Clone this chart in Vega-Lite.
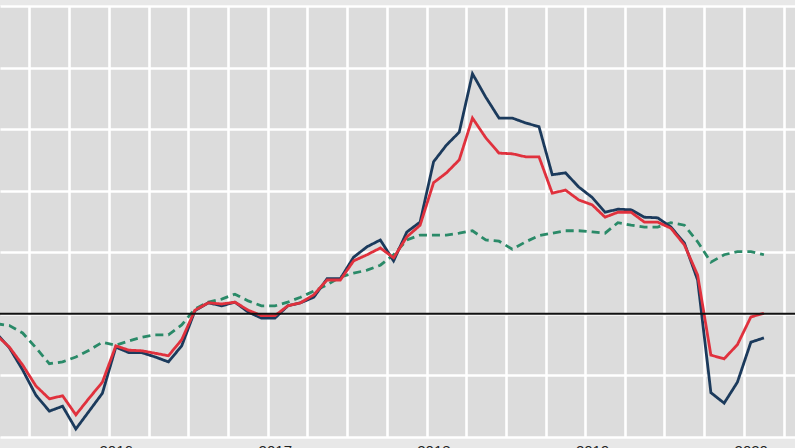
{
  "$schema": "https://vega.github.io/schema/vega-lite/v6.json",
  "width": 795,
  "height": 431,
  "autosize": {"type": "none"},
  "padding": {"top": 6, "left": 0, "right": 0, "bottom": 11},
  "background": "#e8e8e8",
  "config": {
    "view": {"fill": "#dcdcdc", "stroke": null},
    "font": "Liberation Sans"
  },
  "layer": [
    {
      "data": {
        "values": [
          {"date": "2015-04", "A": -0.31, "B": -0.34, "C": -0.16},
          {"date": "2015-05", "A": -0.55, "B": -0.54, "C": -0.19},
          {"date": "2015-06", "A": -0.91, "B": -0.83, "C": -0.31},
          {"date": "2015-07", "A": -1.32, "B": -1.17, "C": -0.55},
          {"date": "2015-08", "A": -1.58, "B": -1.38, "C": -0.81},
          {"date": "2015-09", "A": -1.50, "B": -1.33, "C": -0.78},
          {"date": "2015-10", "A": -1.87, "B": -1.64, "C": -0.70},
          {"date": "2015-11", "A": -1.58, "B": -1.37, "C": -0.59},
          {"date": "2015-12", "A": -1.29, "B": -1.11, "C": -0.46},
          {"date": "2016-01", "A": -0.54, "B": -0.52, "C": -0.51},
          {"date": "2016-02", "A": -0.63, "B": -0.59, "C": -0.44},
          {"date": "2016-03", "A": -0.63, "B": -0.60, "C": -0.38},
          {"date": "2016-04", "A": -0.70, "B": -0.64, "C": -0.34},
          {"date": "2016-05", "A": -0.78, "B": -0.68, "C": -0.34},
          {"date": "2016-06", "A": -0.52, "B": -0.42, "C": -0.18},
          {"date": "2016-07", "A": 0.05, "B": 0.06, "C": 0.08},
          {"date": "2016-08", "A": 0.18, "B": 0.18, "C": 0.19},
          {"date": "2016-09", "A": 0.13, "B": 0.16, "C": 0.24},
          {"date": "2016-10", "A": 0.19, "B": 0.19, "C": 0.32},
          {"date": "2016-11", "A": 0.03, "B": 0.06, "C": 0.21},
          {"date": "2016-12", "A": -0.07, "B": -0.03, "C": 0.13},
          {"date": "2017-01", "A": -0.07, "B": -0.03, "C": 0.13},
          {"date": "2017-02", "A": 0.13, "B": 0.13, "C": 0.19},
          {"date": "2017-03", "A": 0.18, "B": 0.18, "C": 0.27},
          {"date": "2017-04", "A": 0.27, "B": 0.31, "C": 0.37},
          {"date": "2017-05", "A": 0.57, "B": 0.55, "C": 0.47},
          {"date": "2017-06", "A": 0.57, "B": 0.55, "C": 0.60},
          {"date": "2017-07", "A": 0.92, "B": 0.86, "C": 0.66},
          {"date": "2017-08", "A": 1.09, "B": 0.96, "C": 0.71},
          {"date": "2017-09", "A": 1.20, "B": 1.07, "C": 0.79},
          {"date": "2017-10", "A": 0.86, "B": 0.91, "C": 0.96},
          {"date": "2017-11", "A": 1.33, "B": 1.25, "C": 1.20},
          {"date": "2017-12", "A": 1.49, "B": 1.44, "C": 1.28},
          {"date": "2018-01", "A": 2.47, "B": 2.13, "C": 1.28},
          {"date": "2018-02", "A": 2.74, "B": 2.29, "C": 1.28},
          {"date": "2018-03", "A": 2.95, "B": 2.50, "C": 1.31},
          {"date": "2018-04", "A": 3.90, "B": 3.18, "C": 1.35},
          {"date": "2018-05", "A": 3.52, "B": 2.86, "C": 1.20},
          {"date": "2018-06", "A": 3.18, "B": 2.61, "C": 1.18},
          {"date": "2018-07", "A": 3.18, "B": 2.60, "C": 1.05},
          {"date": "2018-08", "A": 3.10, "B": 2.55, "C": 1.17},
          {"date": "2018-09", "A": 3.04, "B": 2.55, "C": 1.27},
          {"date": "2018-10", "A": 2.26, "B": 1.96, "C": 1.31},
          {"date": "2018-11", "A": 2.29, "B": 2.01, "C": 1.35},
          {"date": "2018-12", "A": 2.06, "B": 1.85, "C": 1.35},
          {"date": "2019-01", "A": 1.89, "B": 1.77, "C": 1.33},
          {"date": "2019-02", "A": 1.65, "B": 1.57, "C": 1.31},
          {"date": "2019-03", "A": 1.70, "B": 1.65, "C": 1.48},
          {"date": "2019-04", "A": 1.69, "B": 1.65, "C": 1.44},
          {"date": "2019-05", "A": 1.57, "B": 1.49, "C": 1.41},
          {"date": "2019-06", "A": 1.56, "B": 1.49, "C": 1.41},
          {"date": "2019-07", "A": 1.41, "B": 1.39, "C": 1.48},
          {"date": "2019-08", "A": 1.15, "B": 1.12, "C": 1.44},
          {"date": "2019-09", "A": 0.55, "B": 0.63, "C": 1.17},
          {"date": "2019-10", "A": -1.28, "B": -0.67, "C": 0.84},
          {"date": "2019-11", "A": -1.45, "B": -0.73, "C": 0.96},
          {"date": "2019-12", "A": -1.11, "B": -0.50, "C": 1.01},
          {"date": "2020-01", "A": -0.46, "B": -0.05, "C": 1.01},
          {"date": "2020-02", "A": -0.39, "B": 0.01, "C": 0.96}
        ]
      },
      "transform": [{"fold": ["C", "A", "B"], "as": ["series", "value"]}],
      "mark": {"type": "line", "strokeWidth": 2.8, "clip": true},
      "encoding": {
        "x": {
          "field": "date",
          "timeUnit": "utcyearmonth",
          "type": "temporal",
          "bandPosition": 0.5,
          "scale": {"domain": ["2015-04-25", "2020-04-27"], "nice": false},
          "axis": {
            "title": null,
            "grid": true,
            "gridColor": "#ffffff",
            "gridWidth": 2.6,
            "gridOpacity": 1,
            "domain": false,
            "ticks": false,
            "tickCount": {"interval": "month", "step": 3},
            "labelExpr": "utcmonth(datum.value) == 0 ? utcFormat(datum.value, '%Y') : ''",
            "labelOffset": 6.6,
            "labelPadding": 6,
            "labelFontSize": 15,
            "labelColor": "#222222",
            "labelFlush": false,
            "labelOverlap": false,
            "labelBaseline": "top"
          }
        },
        "y": {
          "field": "value",
          "type": "quantitative",
          "scale": {"domain": [-2, 5], "nice": false, "zero": false},
          "axis": {
            "title": null,
            "grid": true,
            "gridColor": "#ffffff",
            "gridWidth": 2.6,
            "gridOpacity": 1,
            "values": [-2, -1, 0, 1, 2, 3, 4, 5],
            "labels": false,
            "domain": false,
            "ticks": false
          }
        },
        "color": {
          "field": "series",
          "type": "nominal",
          "scale": {"domain": ["C", "A", "B"], "range": ["#2a8a68", "#1b3a5c", "#e0313d"]},
          "legend": null
        },
        "strokeDash": {
          "field": "series",
          "type": "nominal",
          "scale": {"domain": ["C", "A", "B"], "range": [[8, 5], [1, 0], [1, 0]]},
          "legend": null
        }
      }
    },
    {
      "data": {"values": [{"zero": 0}]},
      "mark": {"type": "rule", "color": "#111111", "strokeWidth": 2},
      "encoding": {"y": {"field": "zero", "type": "quantitative"}}
    }
  ]
}
